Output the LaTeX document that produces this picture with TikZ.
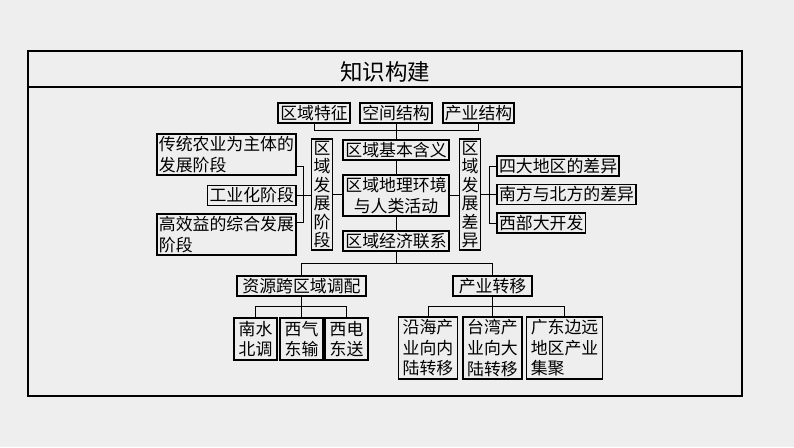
\documentclass[tikz,border=0pt]{standalone}
\usepackage{fontspec}
\setmainfont{Noto Sans CJK SC}
\usetikzlibrary{positioning}

\definecolor{bgGray}{RGB}{238,238,238}
\tikzset{
  box/.style={draw=black, line width=1.3pt, inner xsep=1.5pt, inner ysep=1.5pt,
    font=\fontsize{12pt}{14.6pt}\selectfont},
  vbox/.style={box, align=center, font=\fontsize{12pt}{13.2pt}\selectfont},
  leaf/.style={box, inner xsep=3pt, inner ysep=2pt},
  link/.style={line width=0.7pt}
}

\begin{document}
\begin{tikzpicture}[x=0.025cm,y=-0.025cm]
\fill[bgGray] (0,0) rectangle (794,447);
\useasboundingbox (0,0) rectangle (794,447);

% frame and title
\draw[line width=0.9pt] (28,51) rectangle (742,396);
\draw[line width=0.9pt] (28,87) -- (742,87);
\node[font=\fontsize{16pt}{16pt}\selectfont] (title) at (385,71.5) {知识构建};

% top row
\node[box] (tz) at (314,113) {区域特征};
\node[box] (kj) at (396,113) {空间结构};
\node[box] (cy) at (478.5,113) {产业结构};

% middle column
\node[box] (jb) at (396,150) {区域基本含义};
\node[box, align=center] (hj) at (396,195.5) {区域地理环境\\与人类活动};
\node[box] (jj) at (396,241) {区域经济联系};

\node[vbox] (fzjd) at (322,194.5) {区\\域\\发\\展\\阶\\段};
\node[vbox] (fzcy) at (470,194.5) {区\\域\\发\\展\\差\\异};

% left side
\node[box, anchor=east, align=left] (ct) at (297,154.5) {传统农业为主体的\\发展阶段};
\node[box, anchor=east] (gy) at (297,195.5) {工业化阶段};
\node[box, anchor=east, align=left] (gx) at (297,234.5) {高效益的综合发展\\阶段};

% right side
\node[box, anchor=west] (sd) at (496,166) {四大地区的差异};
\node[box, anchor=west] (nb) at (496,194.5) {南方与北方的差异};
\node[box, anchor=west] (xb) at (496,223) {西部大开发};

% bottom
\node[box, inner xsep=4pt] (dp) at (301.5,286) {资源跨区域调配};
\node[box, inner xsep=4pt] (zy) at (492.5,286) {产业转移};

\node[leaf, align=center] (ns) at (255.5,339) {南水\\北调};
\node[leaf, align=center] (xq) at (301.5,339) {西气\\东输};
\node[leaf, align=center] (xd) at (346.5,339) {西电\\东送};
\node[leaf, align=center] (yh) at (428,348) {沿海产\\业向内\\陆转移};
\node[leaf, align=center] (tw) at (492.5,348) {台湾产\\业向大\\陆转移};
\node[leaf, align=left] (gd) at (564.5,348) {广东边远\\地区产业\\集聚};

% links
\draw[link] (tz.south) -- ++(0,7) -| (cy.south);
\draw[link] (kj.south) -- (jb.north);
\draw[link] (jb.south) -- (hj.north);
\draw[link] (hj.south) -- (jj.north);
\draw[link] (fzjd.east) -- (fzjd.east -| hj.west);
\draw[link] (hj.east) -- (hj.east -| fzcy.west);
\draw[link] (gy.east) -- (gy.east -| fzjd.west);
\draw[link] ([yshift=-0.29cm]ct.east) -- ++(6,0) |- ([yshift=0.31cm]gx.east);
\draw[link] (fzcy.east) -- (nb.west);
\draw[link] (sd.west) -- ++(-7,0) |- (xb.west);

\draw[link] (jj.south) -- ++(0,12) coordinate (jjb);
\draw[link] (dp.north) |- (jjb) -| (zy.north);
\draw[link] (dp.south) -- ++(0,10) coordinate (dpb);
\draw[link] (ns.north) |- (dpb) -| (xd.north);
\draw[link] (xq.north) -- (dpb);
\draw[link] (zy.south) -- ++(0,10) coordinate (zyb);
\draw[link] (yh.north) |- (zyb) -| (gd.north);
\draw[link] (tw.north) -- (zyb);

\end{tikzpicture}
\end{document}
